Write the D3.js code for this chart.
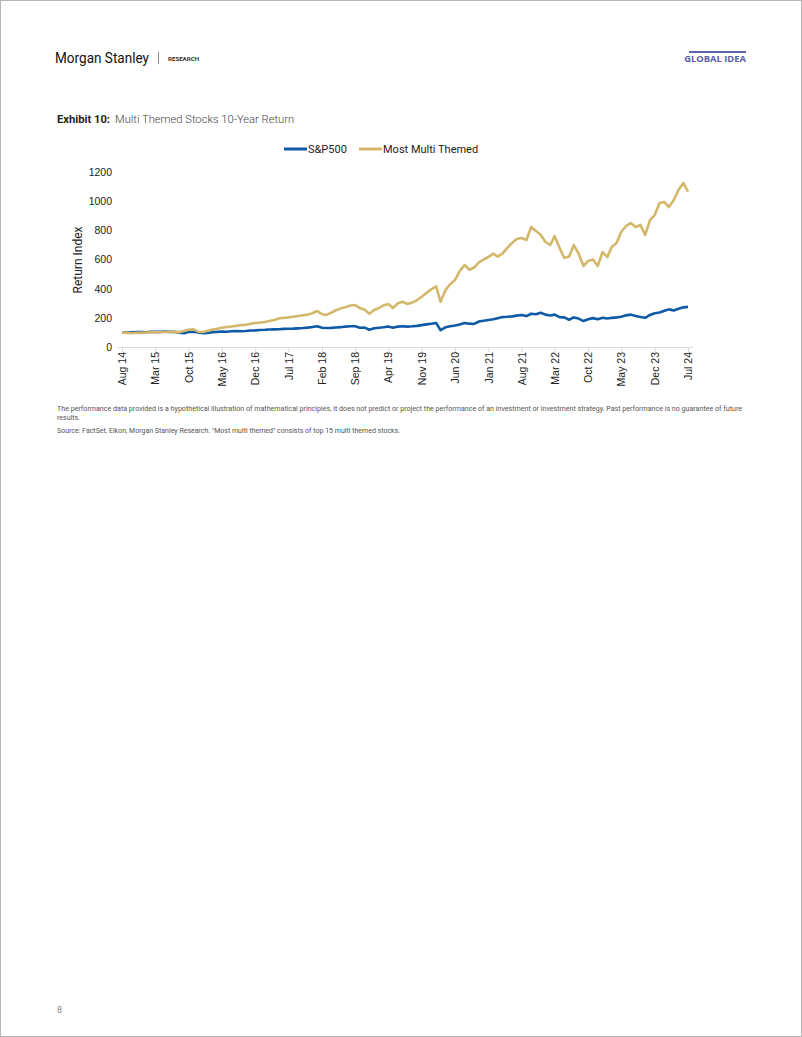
<!DOCTYPE html>
<meta charset="utf-8">
<style>
body { margin: 0; background: #fff; }
svg { font-family: Roboto, "Noto Sans", sans-serif; }
.axis text { font-size: 10.5px; fill: #222; }
.axis path, .axis line { stroke: #d9d9d9; }
.note { font-size: 7px; fill: #555; }
</style>
<body>
<div id="chart"></div>
<script src="https://cdn.jsdelivr.net/npm/d3@7"></script>
<script>
// monthly points, Aug 2014 .. Jul 2024
var months = d3.timeMonth.range(new Date(2014, 7, 1), new Date(2024, 7, 1));

var sp500 = [100, 99, 101, 103, 102, 101, 105, 104, 104, 106, 104, 105, 98, 95, 103, 104, 100, 95, 96, 102,
  104, 106, 105, 108, 109, 108, 110, 113, 114, 117, 118, 120, 121, 122, 124, 125, 126, 128, 130, 133,
  137, 142, 132, 130, 131, 134, 136, 140, 142, 142, 132, 133, 118, 128, 132, 135, 140, 132, 140, 142,
  140, 142, 145, 150, 155, 160, 165, 115, 135, 142, 148, 155, 165, 160, 158, 175, 180, 185, 190, 197,
  205, 207, 210, 215, 220, 212, 228, 225, 235, 222, 216, 222, 205, 203, 187, 203, 195, 178, 190, 198,
  190, 200, 195, 200, 203, 208, 217, 222, 212, 206, 200, 220, 232, 237, 248, 258, 250, 262, 272, 275];

var multiThemed = [100, 97, 94, 98, 97, 99, 100, 101, 102, 103, 103, 104, 102, 110, 118, 122, 105, 103, 112, 120,
  125, 132, 137, 140, 145, 150, 152, 160, 165, 168, 172, 178, 185, 195, 200, 203, 208, 213, 218, 222,
  232, 247, 225, 220, 235, 252, 265, 272, 285, 288, 267, 255, 228, 254, 268, 285, 295, 267, 300, 310,
  295, 305, 320, 345, 370, 395, 415, 310, 390, 430, 460, 520, 562, 530, 545, 580, 600, 617, 640, 620,
  640, 680, 713, 740, 747, 734, 823, 795, 770, 720, 700, 760, 680, 610, 620, 699, 640, 555, 590, 600,
  555, 650, 617, 686, 713, 790, 830, 850, 823, 837, 768, 871, 905, 987, 994, 960, 1008, 1077, 1125, 1065];

var seriesNames = ["S&P500", "Most Multi Themed"];
var seriesColors = ["#0f5aa6", "#d3b86c"];
var tickLabels = ["Aug 14", "Mar 15", "Oct 15", "May 16", "Dec 16", "Jul 17", "Feb 18", "Sep 18", "Apr 19",
  "Nov 19", "Jun 20", "Jan 21", "Aug 21", "Mar 22", "Oct 22", "May 23", "Dec 23", "Jul 24"];
var yTicks = [0, 200, 400, 600, 800, 1000, 1200];

var W = 802, H = 1037;
var svg = d3.select("#chart").append("svg").attr("width", W).attr("height", H);

// page frame
svg.append("rect").attr("x", 0.5).attr("y", 0.5).attr("width", W - 1).attr("height", H - 1)
  .attr("fill", "none").attr("stroke", "#b5b5b5");

// header
svg.append("text").attr("x", 55).attr("y", 63).attr("font-size", 14.5).attr("fill", "#111")
  .attr("textLength", 94).attr("lengthAdjust", "spacingAndGlyphs").text("Morgan Stanley");
svg.append("line").attr("x1", 158.5).attr("x2", 158.5).attr("y1", 52).attr("y2", 64).attr("stroke", "#888");
svg.append("text").attr("x", 168).attr("y", 61).attr("font-size", 5.4).attr("font-weight", 700)
  .attr("textLength", 31).attr("lengthAdjust", "spacingAndGlyphs").attr("fill", "#333").text("RESEARCH");
svg.append("line").attr("x1", 689).attr("x2", 746).attr("y1", 52).attr("y2", 52)
  .attr("stroke", "#6163b0").attr("stroke-width", 2);
svg.append("text").attr("x", 746).attr("y", 62).attr("text-anchor", "end").attr("font-size", 9.4)
  .attr("font-weight", 700).attr("fill", "#5a5ea8").attr("font-family", "'Open Sans', sans-serif")
  .text("GLOBAL IDEA");

// exhibit title
var title = svg.append("text").attr("x", 57).attr("y", 123).attr("font-size", 11.2);
title.append("tspan").attr("font-weight", 700).attr("fill", "#222").text("Exhibit 10:");
title.append("tspan").attr("dx", 5).attr("font-weight", 300).attr("fill", "#444")
  .text("Multi Themed Stocks 10-Year Return");

// scales
var x = d3.scaleTime().domain([months[0], months[months.length - 1]]).range([122, 688]);
var y = d3.scaleLinear().domain([0, 1200]).range([347, 172]);

// y axis labels
var yAxis = svg.append("g").attr("class", "axis").attr("transform", "translate(112,0)")
  .call(d3.axisLeft(y).tickValues(yTicks).tickFormat(d3.format("d")).tickSize(0).tickPadding(0));
yAxis.select(".domain").remove();
yAxis.selectAll("text").attr("font-size", 11.5);

svg.append("text").attr("transform", "translate(82,260) rotate(-90)").attr("text-anchor", "middle")
  .attr("font-size", 12).attr("fill", "#222").text("Return Index");

// x axis
var parseTick = d3.timeParse("%b %y");
var xAxis = svg.append("g").attr("class", "axis").attr("transform", "translate(0,347)")
  .call(d3.axisBottom(x).tickValues(tickLabels.map(parseTick))
    .tickFormat(function(d, i) { return tickLabels[i]; }).tickSize(5).tickSizeOuter(0));
xAxis.select(".domain").attr("d", "M118,0.5H693");
xAxis.selectAll("text")
  .attr("transform", "rotate(-90)")
  .attr("text-anchor", "end")
  .attr("x", -5).attr("y", 0).attr("dy", "0.35em");

// lines
var line = d3.line().x(function(d, i) { return x(months[i]); }).y(function(d) { return y(d); });
[sp500, multiThemed].forEach(function(s, k) {
  svg.append("path").datum(s).attr("d", line).attr("fill", "none")
    .attr("stroke", seriesColors[k]).attr("stroke-width", 2.6).attr("stroke-linejoin", "round");
});

// legend
var legendX = [284, 359];
seriesNames.forEach(function(n, k) {
  var g = svg.append("g").attr("transform", "translate(" + legendX[k] + ",149)");
  g.append("line").attr("x1", 0).attr("x2", 23).attr("stroke", seriesColors[k]).attr("stroke-width", 3);
  g.append("text").attr("x", 24).attr("y", 4).attr("font-size", 11).attr("fill", "#222").text(n);
});

// notes
svg.append("text").attr("class", "note").attr("x", 57).attr("y", 411).attr("textLength", 685)
  .attr("lengthAdjust", "spacingAndGlyphs")
  .text("The performance data provided is a hypothetical illustration of mathematical principles, it does not predict or project the performance of an investment or investment strategy. Past performance is no guarantee of future");
svg.append("text").attr("class", "note").attr("x", 57).attr("y", 420).text("results.");
svg.append("text").attr("class", "note").attr("x", 57).attr("y", 433)
  .text("Source: FactSet, Eikon, Morgan Stanley Research. \"Most multi themed\" consists of top 15 multi themed stocks.");

svg.append("text").attr("x", 57).attr("y", 1013).attr("font-size", 9).attr("fill", "#888").text("8");
</script>
</body>
